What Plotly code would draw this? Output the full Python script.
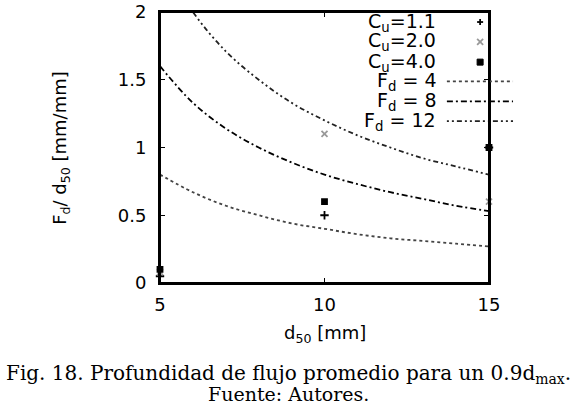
import plotly.graph_objects as go

# values
d50 = [5, 6, 7, 8, 9, 10, 11, 12, 13, 14, 15]
fd4 = [0.80, 0.67, 0.57, 0.50, 0.44, 0.40, 0.36, 0.33, 0.31, 0.29, 0.27]
fd8 = [1.60, 1.33, 1.14, 1.00, 0.89, 0.80, 0.73, 0.67, 0.62, 0.57, 0.53]
fd12 = [2.40, 2.00, 1.71, 1.50, 1.33, 1.20, 1.09, 1.00, 0.92, 0.86, 0.80]

d50_pts = [5, 10, 15]
cu11 = [0.05, 0.50, 1.00]
cu20 = [0.08, 1.10, 0.60]
cu40 = [0.10, 0.60, 1.00]

y_ticks = [0, 0.5, 1, 1.5, 2]
y_labels = ["0", "0.5", "1", "1.5", "2"]
x_ticks = [5, 10, 15]

sans = "DejaVu Sans"
serif = "DejaVu Serif"

fig = go.Figure()

curves = [
    ("F<sub>d</sub> = 4", fd4, "#444444", "dot"),
    ("F<sub>d</sub> = 8", fd8, "black", "6px,3px,2px,3px"),
    ("F<sub>d</sub> = 12", fd12, "#222222", "2px,3px,2px,3px,5px,3px"),
]
for name, ys, col, dash in curves:
    fig.add_trace(go.Scatter(x=d50, y=ys, mode="lines", name=name,
                             line=dict(color=col, width=1.8, dash=dash, shape="spline"),
                             showlegend=False))

points = [
    ("C<sub>u</sub>=1.1", cu11, "black", "cross-thin", 6),
    ("C<sub>u</sub>=2.0", cu20, "#999999", "x-thin", 6),
    ("C<sub>u</sub>=4.0", cu40, "black", "square", 5),
]
for name, ys, col, sym, sz in points:
    fig.add_trace(go.Scatter(x=d50_pts, y=ys, mode="markers", name=name,
                             marker=dict(color=col, symbol=sym, size=sz,
                                         line=dict(color=col, width=1.8)),
                             cliponaxis=False, showlegend=False))


def key_glyph(sym, col, xp, yp, h=3):
    # small legend symbol drawn with pixel-sized shapes at a paper position
    base = dict(xref="paper", yref="paper", xsizemode="pixel", ysizemode="pixel",
                xanchor=xp, yanchor=yp)
    if sym == "square":
        fig.add_shape(type="rect", x0=-h, x1=h, y0=-h, y1=h, fillcolor=col,
                      line=dict(color=col, width=1), **base)
    elif sym == "cross-thin":
        fig.add_shape(type="line", x0=-h, x1=h, y0=0, y1=0,
                      line=dict(color=col, width=1.8), **base)
        fig.add_shape(type="line", x0=0, x1=0, y0=-h, y1=h,
                      line=dict(color=col, width=1.8), **base)
    else:
        fig.add_shape(type="line", x0=-h, x1=h, y0=-h, y1=h,
                      line=dict(color=col, width=1.8), **base)
        fig.add_shape(type="line", x0=-h, x1=h, y0=h, y1=-h,
                      line=dict(color=col, width=1.8), **base)


# hand-made gnuplot style key: right aligned text, sample to the right
rows = [0.963, 0.890, 0.815, 0.744, 0.670, 0.597]
for i, (name, ys, col, sym, sz) in enumerate(points):
    fig.add_annotation(x=0.845, y=rows[i], xref="paper", yref="paper",
                       text=name, showarrow=False, xanchor="right", yanchor="middle",
                       font=dict(family=sans, size=19, color="black"))
    key_glyph(sym, col, 0.973, rows[i])
for j, (name, ys, col, dash) in enumerate(curves):
    r = rows[3 + j]
    fig.add_annotation(x=0.845, y=r, xref="paper", yref="paper",
                       text=name, showarrow=False, xanchor="right", yanchor="middle",
                       font=dict(family=sans, size=19, color="black"))
    fig.add_shape(type="line", xref="paper", yref="paper",
                  x0=0.872, x1=1.073, y0=r, y1=r,
                  line=dict(color=col, width=1.8, dash=dash))

# top border of the frame with its small ticks
fig.add_shape(type="rect", xref="paper", yref="paper", x0=0, x1=1, y0=0, y1=1,
              line=dict(color="black", width=2), layer="above")
for xt in x_ticks:
    fig.add_shape(type="line", xref="x", yref="paper", ysizemode="pixel", yanchor=1,
                  x0=xt, x1=xt, y0=0, y1=-5, line=dict(color="black", width=1))

fig.add_annotation(x=-0.303, y=0.5, xref="paper", yref="paper",
                   text="F<sub>d</sub>/ d<sub>50</sub> [mm/mm]", textangle=-90,
                   showarrow=False, xanchor="center", yanchor="middle",
                   font=dict(family=sans, size=18, color="black"))
fig.add_annotation(x=0.5, y=0, xref="paper", yref="paper", yshift=-51,
                   text="d<sub>50</sub> [mm]", showarrow=False,
                   xanchor="center", yanchor="middle",
                   font=dict(family=sans, size=18, color="black"))
fig.add_annotation(x=0.39, y=0, xref="paper", yref="paper", yshift=-91,
                   text="Fig. 18. Profundidad de flujo promedio para un 0.9d<sub>max</sub>.",
                   showarrow=False, xanchor="center", yanchor="middle",
                   font=dict(family=serif, size=20, color="black"))
fig.add_annotation(x=0.39, y=0, xref="paper", yref="paper", yshift=-111,
                   text="Fuente: Autores.", showarrow=False,
                   xanchor="center", yanchor="middle",
                   font=dict(family=serif, size=19, color="black"))

axis_common = dict(showline=True, linecolor="black", linewidth=2, mirror="ticks",
                   ticks="inside", ticklen=5, tickcolor="black", showgrid=False,
                   zeroline=False, automargin=False, ticklabeloverflow="allow",
                   tickfont=dict(family=sans, size=18, color="black"))

fig.update_layout(
    width=580, height=407,
    margin=dict(l=160, r=91, t=12, b=124, autoexpand=False),
    paper_bgcolor="white", plot_bgcolor="white",
    xaxis=dict(range=[5, 15], tickvals=x_ticks, ticklabelstandoff=4, **axis_common),
    yaxis=dict(range=[0, 2], tickvals=y_ticks, ticktext=y_labels,
               ticklabelstandoff=8, **axis_common),
)

# drop the browser's default body margin so the figure sits at the page corner
fig.write_html("out.html", config={"displayModeBar": False},
               post_script="document.body.style.margin='0';")
